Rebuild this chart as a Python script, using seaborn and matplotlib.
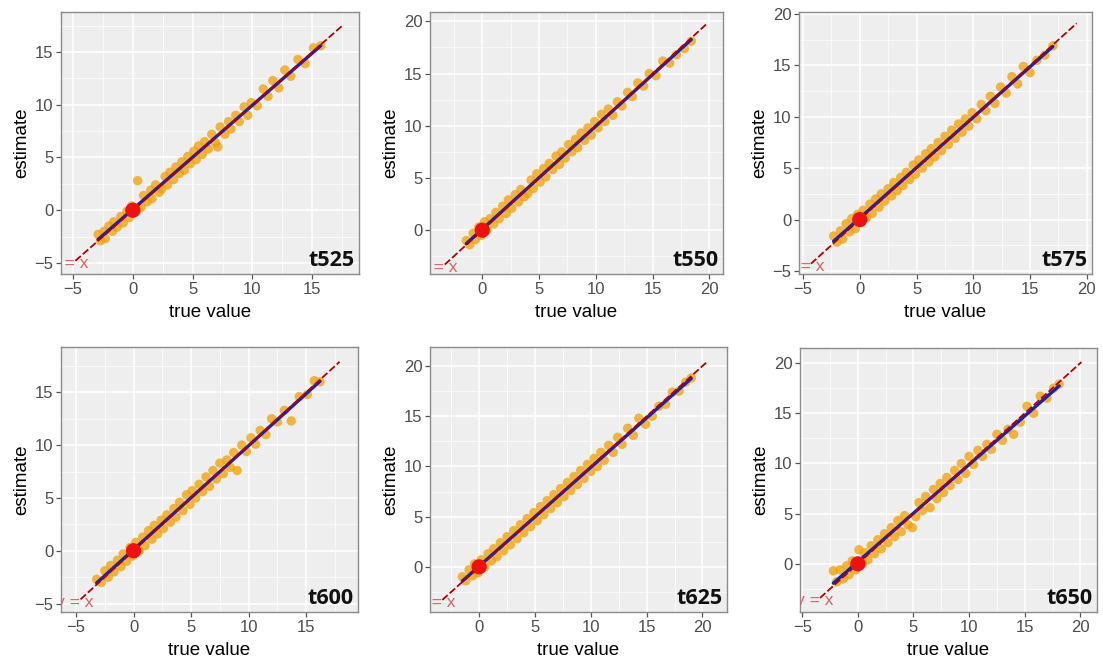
import numpy as np
import pandas as pd
import seaborn as sns
import matplotlib.pyplot as plt
from matplotlib.ticker import MultipleLocator

# panel names
panels = ["t525", "t550", "t575", "t600", "t625", "t650"]

# true value / estimate pairs
true_t525 = [-2.9, -2.7, -2.4, -2.3, -2.0, -1.7, -1.6, -1.3, -1.0, -0.8, -0.5, -0.3, -0.1, 0.3, 0.4,
             0.7, 0.9, 1.2, 1.5, 1.6, 1.9, 2.2, 2.4, 2.7, 2.9, 3.1, 3.4, 3.6, 3.9, 4.1, 4.3, 4.6,
             4.8, 5.1, 5.3, 5.5, 5.8, 6.0, 6.3, 6.6, 6.9, 7.1, 7.3, 7.7, 8.0, 8.2, 8.6, 8.9, 9.3,
             9.6, 9.9, 10.4, 10.9, 11.3, 11.7, 12.2, 12.7, 13.2, 13.8, 14.4, 15.1, 15.7]
est_t525 = [-2.3, -2.9, -2.0, -2.7, -1.5, -2.0, -1.1, -1.6, -0.6, -1.2, -0.1, -0.7, 0.4, -0.1, 2.8,
            0.3, 1.4, 0.8, 1.9, 1.1, 2.4, 1.7, 2.0, 3.2, 2.4, 3.6, 2.9, 4.1, 3.5, 4.6, 3.8, 5.1,
            4.4, 5.6, 4.8, 6.1, 5.3, 6.5, 5.8, 7.2, 6.4, 6.0, 7.9, 7.2, 8.4, 7.7, 9.0, 8.4, 9.8,
            9.0, 10.2, 9.9, 11.5, 10.8, 12.3, 11.6, 13.3, 12.7, 14.3, 13.9, 15.4, 15.6]

true_t550 = [-1.4, -1.1, -0.8, -0.6, -0.3, -0.1, 0.2, 0.4, 0.7, 1.0, 1.2, 1.5, 1.8, 2.1, 2.3, 2.6,
             2.9, 3.2, 3.4, 3.7, 4.0, 4.3, 4.5, 4.8, 5.1, 5.4, 5.6, 5.9, 6.2, 6.5, 6.8, 7.0, 7.3,
             7.6, 7.9, 8.2, 8.4, 8.7, 9.0, 9.3, 9.6, 9.9, 10.2, 10.5, 10.8, 11.1, 11.5, 11.9, 12.3,
             12.8, 13.2, 13.7, 14.2, 14.7, 15.3, 15.9, 16.5, 17.1, 17.8, 18.4]
est_t550 = [-1.0, -1.4, -0.3, -0.9, 0.3, -0.5, 0.8, 0.0, 1.1, 0.6, 1.7, 1.1, 2.3, 1.6, 2.9, 2.1,
            3.4, 2.7, 3.9, 3.2, 3.5, 4.8, 4.0, 5.4, 4.6, 5.9, 5.1, 6.4, 5.8, 7.1, 6.3, 7.5, 6.9,
            8.2, 7.5, 8.7, 7.9, 9.3, 8.6, 9.8, 9.1, 10.4, 9.8, 11.1, 10.4, 11.6, 11.0, 12.3, 11.9,
            13.2, 12.8, 14.1, 13.8, 15.0, 14.8, 16.2, 16.0, 16.8, 17.4, 18.1]

true_t575 = [-2.3, -2.0, -1.7, -1.5, -1.2, -0.9, -0.7, -0.4, -0.2, 0.1, 0.3, 0.6, 0.9, 1.1, 1.4,
             1.7, 1.9, 2.2, 2.5, 2.8, 3.0, 3.3, 3.6, 3.8, 4.1, 4.4, 4.7, 4.9, 5.2, 5.5, 5.8, 6.1,
             6.3, 6.6, 6.9, 7.2, 7.5, 7.8, 8.1, 8.4, 8.7, 9.0, 9.3, 9.6, 9.9, 10.3, 10.7, 11.1,
             11.5, 11.9, 12.4, 12.9, 13.4, 13.9, 14.4, 15.0, 15.6, 16.3, 17.0]
est_t575 = [-1.6, -2.2, -1.1, -1.9, -0.4, -1.2, 0.1, -0.9, 0.5, -0.3, 0.9, 0.2, 1.5, 0.6, 2.0,
            1.2, 2.5, 1.8, 3.0, 2.3, 3.6, 2.8, 4.1, 3.3, 4.6, 3.9, 5.3, 4.4, 5.8, 5.0, 6.4, 5.6,
            6.9, 6.1, 7.5, 6.7, 8.1, 7.3, 8.7, 7.9, 9.3, 8.5, 9.8, 9.1, 10.4, 9.8, 11.2, 10.6,
            12.0, 11.3, 12.9, 12.3, 13.9, 13.2, 14.9, 14.3, 15.5, 16.0, 16.9]

true_t600 = [-3.2, -2.8, -2.5, -2.2, -2.0, -1.7, -1.4, -1.1, -0.9, -0.6, -0.3, -0.1, 0.2, 0.5, 0.8,
             1.0, 1.3, 1.6, 1.8, 2.1, 2.4, 2.6, 2.9, 3.2, 3.5, 3.7, 4.0, 4.3, 4.6, 4.9, 5.1, 5.4,
             5.7, 6.0, 6.3, 6.6, 6.9, 7.2, 7.5, 7.8, 8.1, 8.4, 8.7, 9.0, 9.4, 9.8, 10.2, 10.6,
             11.0, 11.5, 12.0, 12.5, 13.1, 13.7, 14.4, 15.1, 15.7, 16.2]
est_t600 = [-2.7, -3.0, -1.9, -2.5, -1.4, -2.0, -0.9, -1.5, -0.3, -1.0, 0.3, -0.5, 0.8, 0.0, 1.3,
            0.5, 1.9, 1.1, 2.4, 1.6, 2.9, 2.1, 3.4, 2.7, 4.0, 3.2, 4.6, 3.8, 5.3, 4.4, 5.7, 5.0,
            6.3, 5.6, 7.0, 6.1, 7.6, 6.8, 8.3, 7.3, 8.6, 7.9, 9.3, 7.6, 10.0, 9.4, 10.7, 10.1,
            11.4, 11.0, 12.5, 12.2, 13.3, 12.3, 14.6, 14.8, 16.1, 16.0]

true_t625 = [-1.5, -1.2, -0.9, -0.6, -0.4, -0.1, 0.2, 0.5, 0.8, 1.1, 1.3, 1.6, 1.9, 2.2, 2.5, 2.8,
             3.1, 3.4, 3.7, 4.0, 4.3, 4.6, 4.9, 5.2, 5.5, 5.8, 6.1, 6.4, 6.7, 7.0, 7.3, 7.6, 7.9,
             8.2, 8.5, 8.8, 9.1, 9.4, 9.7, 10.0, 10.3, 10.6, 10.9, 11.2, 11.6, 12.0, 12.4, 12.8,
             13.3, 13.8, 14.3, 14.9, 15.5, 16.1, 16.7, 17.3, 17.9, 18.5, 19.0]
est_t625 = [-1.0, -1.4, -0.3, -0.9, 0.3, -0.6, 0.7, 0.0, 1.3, 0.6, 1.8, 1.0, 2.4, 1.6, 3.0, 2.2,
            3.6, 2.8, 4.2, 3.4, 4.8, 4.0, 5.4, 4.6, 6.0, 5.2, 6.6, 5.8, 7.2, 6.4, 7.8, 7.0, 8.4,
            7.6, 9.0, 8.2, 9.6, 8.8, 10.2, 9.5, 10.8, 10.0, 11.4, 10.6, 12.1, 11.4, 12.9, 12.2,
            13.8, 13.1, 14.8, 14.2, 15.0, 16.0, 16.2, 17.4, 17.5, 18.4, 18.8]

true_t650 = [-2.2, -1.9, -1.6, -1.3, -1.0, -0.8, -0.5, -0.2, 0.1, 0.4, 0.6, 0.9, 1.2, 1.5, 1.8,
             2.1, 2.4, 2.7, 3.0, 3.3, 3.6, 3.9, 4.2, 4.5, 4.9, 5.2, 5.5, 5.8, 6.1, 6.5, 6.8, 7.1,
             7.4, 7.7, 8.0, 8.3, 8.7, 9.0, 9.3, 9.7, 10.0, 10.4, 10.8, 11.2, 11.6, 12.0, 12.5,
             13.0, 13.5, 14.0, 14.6, 15.2, 15.8, 16.4, 17.0, 17.6, 18.1]
est_t650 = [-0.7, -1.8, -0.6, -1.5, -0.2, -1.1, 0.3, -0.6, 1.4, 0.0, 1.1, 0.4, 1.8, 1.0, 2.4,
            1.5, 3.0, 2.1, 3.6, 2.7, 4.3, 3.2, 4.8, 3.9, 3.6, 4.7, 6.1, 5.3, 6.7, 5.6, 7.4, 6.5,
            8.0, 7.1, 8.6, 7.8, 9.3, 8.4, 10.0, 9.0, 10.7, 9.9, 11.3, 10.7, 11.9, 11.4, 12.9,
            12.3, 13.4, 12.9, 14.1, 15.7, 15.0, 16.7, 16.5, 17.5, 17.9]

true_vals = [true_t525, true_t550, true_t575, true_t600, true_t625, true_t650]
est_vals = [est_t525, est_t550, est_t575, est_t600, est_t625, est_t650]

# ends of the y = x reference line in each panel
ref_lo = [-4.8, -3.3, -4.3, -4.6, -3.3, -3.4]
ref_hi = [17.6, 19.7, 19.1, 17.9, 20.5, 20.1]

sns.set_theme(style="darkgrid", rc={
    "axes.facecolor": "#EEEEEE",
    "grid.color": "white",
    "axes.edgecolor": "#8C8C8C",
    "axes.linewidth": 1.0,
    "xtick.bottom": True,
    "ytick.left": True,
})
plt.rcParams["font.family"] = ["Liberation Sans", "DejaVu Sans"]

fig = plt.figure(figsize=(11.03, 6.62), dpi=100)
W, H = 1103, 662

# panel boxes in pixels: left, top, right, bottom
boxes = [(61, 12, 359, 274), (430, 12, 723, 274), (799, 12, 1092, 274),
         (61, 347, 358, 612), (430, 347, 727, 612), (800, 348, 1097, 612)]
xlims = [(-6.0, 18.9), (-4.6, 21.2), (-5.35, 20.45), (-6.3, 19.5), (-4.4, 22.2), (-5.2, 21.5)]
ylims = [(-6.05, 18.8), (-4.2, 20.9), (-5.3, 20.2), (-5.8, 19.3), (-4.5, 21.9), (-4.8, 21.5)]

for i, name in enumerate(panels):
    l, t, r, b = boxes[i]
    ax = fig.add_axes([l / W, 1 - b / H, (r - l) / W, (b - t) / H])

    df = pd.DataFrame({"true": true_vals[i], "estimate": est_vals[i]})
    ref = pd.DataFrame({"x": [ref_lo[i], ref_hi[i]], "y": [ref_lo[i], ref_hi[i]]})

    sns.scatterplot(data=df, x="true", y="estimate", ax=ax, color="#F2A000",
                    alpha=0.75, s=46, edgecolor="none", zorder=3)
    sns.regplot(data=df, x="true", y="estimate", ax=ax, scatter=False, ci=None,
                color="#2020B0", line_kws={"lw": 2.4, "zorder": 4})
    sns.lineplot(data=ref, x="x", y="y", ax=ax, color="#B00000", lw=1.3,
                 dashes=False, zorder=5)
    ax.lines[-1].set_dashes([4, 1.5])
    sns.scatterplot(x=[0], y=[0], ax=ax, color="#F01010", s=120, edgecolor="none", zorder=6)
    # label of the reference line, partly cut off by the panel edge as in the original
    ax.annotate("y = x", (ref_lo[i], ref_lo[i]), xytext=(-4, -2), textcoords="offset points",
                color="#D06666", fontsize=12.5, ha="center", va="center",
                annotation_clip=False, clip_on=True, zorder=6)
    ax.text(0.985, 0.012, name, transform=ax.transAxes, ha="right", va="bottom",
            fontsize=15.5, fontweight="bold", family=["Open Sans", "DejaVu Sans"],
            color="#111111", zorder=7)

    ax.set_xlim(*xlims[i])
    ax.set_ylim(*ylims[i])
    ax.xaxis.set_major_locator(MultipleLocator(5))
    ax.yaxis.set_major_locator(MultipleLocator(5))
    ax.xaxis.set_minor_locator(MultipleLocator(2.5))
    ax.yaxis.set_minor_locator(MultipleLocator(2.5))
    ax.grid(which="major", color="white", lw=1.1)
    ax.grid(which="minor", color="white", lw=0.5)
    ax.tick_params(which="major", length=3.5, width=0.9, color="#555555",
                   labelsize=12, labelcolor="#4D4D4D", pad=2)
    ax.tick_params(which="minor", length=0)
    ax.set_xlabel("true value", fontsize=13.5, color="black", labelpad=5)
    ax.set_ylabel("estimate", fontsize=13.5, color="black", labelpad=3)

fig.savefig("out.png", dpi=100)
